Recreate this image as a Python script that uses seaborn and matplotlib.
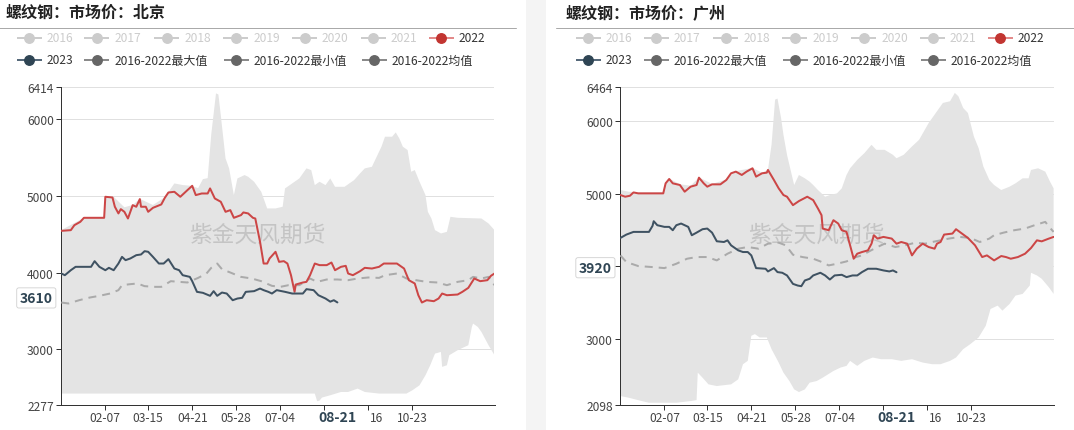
import numpy as np
import pandas as pd
import matplotlib
matplotlib.use("Agg")
import matplotlib.pyplot as plt
import matplotlib.dates as mdates
import matplotlib.transforms as mtransforms
from matplotlib.lines import Line2D
from matplotlib.patches import Rectangle
import seaborn as sns

# ---------------------------------------------------------------- data
TITLE_BJ = "螺纹钢：市场价：北京"
TITLE_GZ = "螺纹钢：市场价：广州"
WATERMARK = "紫金天风期货"
LEGEND_ROW1 = ["2016", "2017", "2018", "2019", "2020", "2021", "2022"]
LEGEND_ROW2 = ["2023", "2016-2022最大值", "2016-2022最小值", "2016-2022均值"]
TICK_LABELS = ["02-07", "03-15", "04-21", "05-28", "07-04", "08-10", "09-16", "10-23"]
CURRENT_DATE = "08-21"

BJ_YMIN, BJ_YMAX = 2277, 6414
GZ_YMIN, GZ_YMAX = 2098, 6464
BJ_LAST = 3610
GZ_LAST = 3920

# day offsets from 01-01
BJ_Y2022_DAY = [0, 8, 11, 16, 19, 36, 37, 43, 45, 48, 50, 53, 56, 60, 63, 66, 67, 71, 73, 77, 84, 87, 90, 95, 100,
                106, 110, 113, 118, 123, 125, 129, 134, 138, 142, 145, 151, 153, 157, 161, 163, 167, 170, 173, 175,
                180, 183, 187, 190, 193, 196, 197, 203, 206, 209, 213, 217, 223, 227, 230, 235, 239, 241, 245, 251,
                255, 261, 267, 271, 282, 288, 292, 297, 300, 303, 307, 313, 317, 320, 324, 333, 337, 342, 347, 352,
                358, 361, 364]
BJ_Y2022_VAL = [4543, 4552, 4617, 4661, 4713, 4713, 4987, 4978, 4857, 4770, 4826, 4791, 4704, 4878, 4857, 4957, 4857,
                4857, 4791, 4843, 4887, 4974, 5043, 5052, 4987, 5074, 5130, 5009, 5030, 5030, 5096, 4965, 4922, 4791,
                4813, 4713, 4748, 4783, 4770, 4713, 4704, 4400, 4117, 4117, 4183, 4270, 4139, 4148, 4117, 3965, 3748,
                3843, 3870, 3878, 3965, 4117, 4096, 4096, 4130, 4030, 4074, 4087, 3987, 3965, 4017, 4061, 4052, 4074,
                4117, 4117, 4052, 3900, 3857, 3704, 3609, 3639, 3626, 3661, 3726, 3704, 3713, 3748, 3800, 3922, 3887,
                3900, 3957, 3987]

BJ_Y2023_DAY = [0, 3, 8, 12, 25, 28, 32, 37, 40, 44, 48, 51, 54, 58, 63, 67, 70, 73, 77, 82, 86, 90, 95, 99, 102,
                108, 110, 114, 119, 125, 128, 131, 135, 139, 144, 148, 152, 155, 162, 167, 170, 174, 177, 181, 188,
                194, 203, 206, 212, 216, 222, 226, 229, 232]
BJ_Y2023_VAL = [3987, 3965, 4030, 4074, 4074, 4148, 4074, 4030, 4061, 4030, 4117, 4204, 4161, 4183, 4226, 4235, 4278,
                4270, 4204, 4117, 4117, 4174, 4052, 4030, 3965, 3943, 3887, 3748, 3735, 3696, 3757, 3696, 3739, 3726,
                3639, 3661, 3670, 3748, 3757, 3791, 3770, 3748, 3726, 3770, 3748, 3726, 3726, 3783, 3770, 3704, 3661,
                3620, 3639, 3610]

BJ_MEAN_DAY = [0, 6, 15, 24, 32, 41, 48, 51, 58, 64, 70, 79, 84, 92, 99, 106, 115, 122, 126, 131, 135, 142, 151, 160,
               168, 177, 184, 191, 200, 209, 215, 223, 232, 241, 249, 258, 267, 272, 282, 290, 298, 307, 316, 324,
               333, 342, 346, 353, 359, 364]
BJ_MEAN_VAL = [3609, 3596, 3639, 3674, 3696, 3726, 3770, 3835, 3848, 3857, 3822, 3813, 3813, 3887, 3878, 3870, 3930,
               3987, 4061, 4117, 4043, 4000, 3943, 3922, 3887, 3826, 3813, 3835, 3835, 3922, 3878, 3909, 3909, 3900,
               3922, 3935, 3930, 3965, 3987, 3922, 3900, 3878, 3870, 3835, 3878, 3900, 3943, 3922, 3943, 3835]

BJ_MAX_DAY = [0, 19, 36, 37, 44, 53, 60, 66, 77, 87, 95, 102, 109, 115, 119, 123, 126, 130, 132, 134, 138, 141, 145,
              148, 154, 157, 162, 168, 173, 180, 186, 188, 194, 200, 206, 210, 213, 217, 222, 226, 230, 238, 242, 246,
              251, 255, 261, 265, 269, 272, 278, 281, 284, 287, 291, 294, 297, 301, 306, 308, 311, 314, 319, 324, 327,
              333, 353, 359, 364]
BJ_MAX_VAL = [4552, 4713, 4713, 4987, 4987, 4850, 4880, 4960, 4880, 4980, 5161, 5140, 5130, 5100, 5217, 5230, 5800,
              6335, 6320, 6052, 5487, 5357, 5009, 5226, 5270, 5248, 5183, 5052, 4835, 4835, 4857, 5096, 5161, 5226,
              5357, 5335, 5139, 5183, 5139, 5226, 5117, 5117, 5161, 5204, 5291, 5357, 5378, 5509, 5639, 5770, 5770,
              5826, 5748, 5639, 5596, 5313, 5335, 5183, 5009, 4791, 4704, 4552, 4509, 4530, 4726, 4713, 4704, 4639,
              4552]

BJ_MIN_DAY = [0, 213, 215, 217, 219, 226, 235, 241, 249, 255, 267, 290, 295, 301, 306, 310, 314, 319, 320, 324, 326,
              333, 342, 345, 346, 350, 353, 359, 364]
BJ_MIN_VAL = [2422, 2422, 2322, 2330, 2370, 2400, 2443, 2443, 2487, 2443, 2422, 2422, 2465, 2530, 2661, 2791, 2943,
              2965, 2770, 2791, 2922, 2987, 3052, 3291, 3335, 3290, 3226, 3052, 2922]

GZ_Y2022_DAY = [0, 4, 8, 11, 15, 36, 38, 41, 44, 50, 54, 59, 64, 66, 70, 73, 77, 84, 89, 93, 97, 102, 106, 111, 114,
                119, 123, 124, 129, 133, 137, 140, 145, 150, 157, 162, 166, 169, 170, 175, 179, 183, 186, 190, 193,
                196, 199, 203, 208, 211, 213, 216, 221, 228, 232, 236, 241, 245, 249, 254, 259, 264, 266, 269, 272,
                279, 282, 287, 292, 298, 304, 308, 314, 320, 324, 328, 334, 340, 345, 350, 354, 360, 364]
GZ_Y2022_VAL = [4982, 4959, 4972, 5018, 5005, 5005, 5143, 5203, 5143, 5120, 5028, 5097, 5120, 5221, 5143, 5097, 5129,
                5129, 5189, 5281, 5304, 5258, 5304, 5350, 5235, 5281, 5290, 5327, 5189, 5074, 4982, 4959, 4843, 4899,
                4959, 4912, 4797, 4705, 4521, 4498, 4636, 4590, 4498, 4475, 4290, 4106, 4175, 4198, 4221, 4313, 4429,
                4383, 4406, 4383, 4313, 4336, 4313, 4152, 4244, 4313, 4267, 4244, 4313, 4336, 4438, 4452, 4512, 4452,
                4392, 4290, 4129, 4152, 4083, 4143, 4129, 4106, 4129, 4175, 4253, 4359, 4345, 4383, 4406]

GZ_Y2023_DAY = [0, 5, 11, 24, 27, 28, 31, 37, 41, 44, 47, 51, 54, 57, 60, 64, 69, 73, 77, 81, 87, 90, 93, 99, 103,
                107, 110, 114, 122, 124, 129, 132, 136, 140, 145, 149, 152, 155, 159, 162, 168, 172, 176, 180, 186,
                190, 195, 199, 203, 208, 215, 221, 226, 229, 232]
GZ_Y2023_VAL = [4392, 4438, 4475, 4475, 4558, 4622, 4567, 4544, 4544, 4498, 4567, 4590, 4567, 4544, 4429, 4465, 4512,
                4521, 4465, 4346, 4336, 4359, 4290, 4221, 4198, 4198, 4152, 3977, 3968, 3931, 3977, 3922, 3913, 3876,
                3760, 3737, 3728, 3807, 3830, 3876, 3913, 3876, 3820, 3876, 3885, 3853, 3876, 3876, 3922, 3968, 3968,
                3945, 3931, 3945, 3920]

GZ_MEAN_DAY = [0, 5, 15, 27, 37, 47, 56, 64, 73, 81, 90, 99, 107, 116, 124, 133, 139, 145, 153, 162, 168, 175, 182,
               190, 198, 203, 209, 216, 222, 231, 239, 248, 256, 262, 269, 276, 285, 294, 302, 310, 314, 322, 331,
               340, 348, 357, 361, 364]
GZ_MEAN_VAL = [4152, 4060, 4005, 3991, 3977, 4037, 4106, 4129, 4129, 4083, 4175, 4244, 4267, 4244, 4313, 4327, 4290,
               4161, 4129, 4106, 4069, 4014, 4037, 4069, 4129, 4152, 4207, 4267, 4313, 4267, 4290, 4327, 4313, 4336,
               4359, 4383, 4406, 4392, 4336, 4383, 4429, 4465, 4498, 4521, 4567, 4613, 4530, 4475]

GZ_MAX_DAY = [0, 7, 15, 36, 38, 41, 50, 59, 66, 77, 89, 97, 111, 119, 124, 127, 130, 132, 135, 137, 140, 143, 146,
              150, 155, 159, 162, 166, 172, 176, 182, 186, 190, 193, 199, 205, 211, 215, 222, 229, 232, 238, 245, 251,
              255, 259, 265, 271, 277, 281, 284, 288, 292, 297, 301, 305, 310, 314, 320, 327, 332, 338, 343, 345, 351,
              357, 361, 364]
GZ_MAX_VAL = [5051, 5028, 5018, 5018, 5150, 5210, 5130, 5110, 5225, 5135, 5195, 5310, 5355, 5290, 5330, 5673, 6295,
              6309, 6041, 5811, 5535, 5327, 5120, 5258, 5212, 5166, 5120, 5051, 4959, 4982, 5005, 5074, 5258, 5350,
              5465, 5558, 5673, 5604, 5604, 5535, 5488, 5535, 5650, 5742, 5857, 5972, 6111, 6249, 6272, 6387, 6341,
              6180, 6111, 5788, 5627, 5373, 5189, 5120, 5051, 5097, 5143, 5212, 5212, 5327, 5350, 5304, 5166, 5074]

GZ_MIN_DAY = [0, 7, 18, 24, 47, 59, 64, 65, 69, 74, 81, 93, 99, 103, 107, 110, 113, 117, 123, 127, 133, 137, 142,
              146, 150, 155, 159, 165, 170, 179, 185, 190, 193, 199, 205, 212, 219, 228, 236, 245, 254, 262, 269,
              277, 282, 288, 294, 301, 307, 311, 317, 321, 327, 332, 338, 344, 345, 350, 354, 360, 364]
GZ_MIN_VAL = [2217, 2194, 2148, 2125, 2125, 2148, 2161, 2539, 2470, 2378, 2355, 2378, 2447, 2655, 2701, 3046, 3069,
              3023, 3023, 2862, 2678, 2539, 2424, 2309, 2272, 2309, 2401, 2424, 2470, 2562, 2609, 2632, 2701, 2632,
              2701, 2747, 2724, 2724, 2701, 2724, 2678, 2655, 2655, 2701, 2747, 2862, 2931, 3023, 3184, 3415, 3461,
              3392, 3484, 3599, 3622, 3737, 3913, 3876, 3830, 3714, 3622]

# ---------------------------------------------------------------- style
sns.set_theme(style="white")
plt.rcParams["font.family"] = ["Noto Sans CJK SC", "DejaVu Sans"]
plt.rcParams["axes.unicode_minus"] = False

W, H = 1074, 431
fig = plt.figure(figsize=(W / 100, H / 100), dpi=100)
fig.patch.set_facecolor("white")

BASE = pd.Timestamp("2022-01-01")


def to_dates(days):
    return BASE + pd.to_timedelta(np.asarray(days), unit="D")


def fx(px):
    return px / W


def fy(py):
    return 1 - py / H


PX = 0.72  # points per pixel at dpi 100

C_RED = "#cc4646"
C_DARK = "#3f5262"
C_MEAN = "#aaaaaa"
C_FILL = "#e4e4e4"

# gray gap between the two panels
fig.add_artist(Rectangle((fx(526), 0), fx(20), 1, transform=fig.transFigure,
                         facecolor="#f4f4f4", edgecolor="none", zorder=0))

LEG_STYLE = {
    "2022": ("#e38a8a", "#c23531", "#333333"),
    "2023": ("#56697a", "#2f4554", "#333333"),
    "2016-2022最大值": ("#8a8a8a", "#666666", "#333333"),
    "2016-2022最小值": ("#8a8a8a", "#666666", "#333333"),
    "2016-2022均值": ("#8a8a8a", "#666666", "#333333"),
}
DISABLED = ("#cccccc", "#cccccc", "#cccccc")
ROW1_X = [16.5, 84.4, 154.3, 223.1, 292.0, 360.9, 428.7]
ROW2_X = [16.5, 84.4, 223.8, 361.6]


def draw_legend(ox):
    for labels, xs, y in ((LEGEND_ROW1, ROW1_X, 38.7), (LEGEND_ROW2, ROW2_X, 61.0)):
        for lab, x in zip(labels, xs):
            lc, mc, tc = LEG_STYLE.get(lab, DISABLED)
            x0 = x + ox
            fig.add_artist(Line2D([fx(x0), fx(x0 + 25)], [fy(y), fy(y)], transform=fig.transFigure,
                                  color=lc, lw=2 * PX, solid_capstyle="butt"))
            fig.add_artist(Line2D([fx(x0 + 12.5)], [fy(y)], transform=fig.transFigure, marker="o",
                                  ms=9.5 * PX, mfc=mc, mec=mc, lw=0))
            fig.text(fx(x0 + 30), fy(y), lab, fontsize=12 * PX, color=tc, ha="left", va="center")


def draw_panel(ox, title, ymin, ymax, last, d22, v22, d23, v23, dmean, vmean, dmax, vmax, dmin, vmin):
    # title + rule
    fig.text(fx(6 + ox), fy(13), title, fontsize=16 * PX, fontweight="bold", color="#222222",
             ha="left", va="center")
    fig.add_artist(Line2D([fx(-3 + ox), fx(516 + ox)], [fy(28.5), fy(28.5)], transform=fig.transFigure,
                          color="#aaaaaa", lw=1 * PX))
    draw_legend(ox)

    ax = fig.add_axes([fx(61.3 + ox), fy(405.7), fx(433.2), (405.7 - 88.3) / H])
    ax.set_facecolor("none")

    sns.lineplot(data=pd.DataFrame({"d": to_dates(dmean), "v": vmean}), x="d", y="v", ax=ax,
                 color=C_MEAN, lw=2 * PX, linestyle=(0, (4, 3)), zorder=3, legend=False)
    sns.lineplot(data=pd.DataFrame({"d": to_dates(d22), "v": v22}), x="d", y="v", ax=ax,
                 color=C_RED, lw=2 * PX, zorder=4, legend=False)
    sns.lineplot(data=pd.DataFrame({"d": to_dates(d23), "v": v23}), x="d", y="v", ax=ax,
                 color=C_DARK, lw=2 * PX, zorder=5, legend=False)

    xs = np.concatenate([mdates.date2num(to_dates(dmax)), mdates.date2num(to_dates(dmin))[::-1]])
    ys = np.concatenate([np.asarray(vmax, float), np.asarray(vmin, float)[::-1]])
    ax.fill(xs, ys, color=C_FILL, lw=0, zorder=1)

    ax.text(0.4527, 0.538, WATERMARK, transform=ax.transAxes, fontsize=22.7 * PX, color="#c4c4c4",
            ha="center", va="center", zorder=2)

    cur = pd.Timestamp("2022-" + CURRENT_DATE)
    tick_dates = pd.to_datetime(["2022-" + t for t in TICK_LABELS])
    # the pointer label at the current date hides the tick labels it sits on
    shown, partial = [], []
    for t, lab in zip(tick_dates, TICK_LABELS):
        gap = (t - cur).days
        if abs(gap) <= 12:
            shown.append("")
        elif 12 < gap <= 30:
            shown.append("")
            partial.append((t, lab.split("-")[1]))
        else:
            shown.append(lab)
    ax.set_xticks(tick_dates)
    ax.set_xticklabels(shown)

    yt = [ymin, 3000, 4000, 5000, 6000, ymax]
    ax.set_yticks(yt)
    ax.set_yticklabels(["" if abs(v - last) < 0.04 * (ymax - ymin) else str(v) for v in yt])
    ax.set_xlabel("")
    ax.set_ylabel("")

    ax.yaxis.grid(True, color="#e0e0e0", lw=1 * PX)
    ax.xaxis.grid(False)
    ax.set_axisbelow(True)
    for s in ("top", "right"):
        ax.spines[s].set_visible(False)
    for s in ("left", "bottom"):
        ax.spines[s].set_color("#333333")
        ax.spines[s].set_linewidth(1 * PX)
    ax.tick_params(axis="both", direction="out", length=5 * PX, width=1 * PX, color="#333333",
                   labelsize=12 * PX, labelcolor="#444444")
    ax.tick_params(axis="y", pad=2.5 * PX, left=True)
    ax.tick_params(axis="x", pad=1.5 * PX, bottom=True)

    blend = mtransforms.blended_transform_factory(ax.transData, ax.transAxes)
    for t, part in partial:
        ax.annotate(part, xy=(mdates.date2num(t), -0.039), xycoords=blend, xytext=(2 * PX, 0),
                    textcoords="offset points", ha="left", va="center", fontsize=12 * PX,
                    color="#444444", annotation_clip=False)

    # current date pointer label on the x axis
    ax.text(mdates.date2num(cur), -0.039, CURRENT_DATE, transform=blend, ha="center", va="center",
            fontsize=14 * PX, fontweight="bold", color="#2f4554", zorder=9, clip_on=False)

    # current value pointer label on the y axis
    ax.annotate(str(last), xy=(0, last), xycoords=("axes fraction", "data"),
                xytext=(-8.5 * PX, 4.5 * PX), textcoords="offset points", ha="right", va="center",
                fontsize=14 * PX, fontweight="bold", color="#2f4554", zorder=10, annotation_clip=False,
                bbox=dict(boxstyle="round,pad=0.22,rounding_size=0.15", fc="white", ec="#d0d0d0", lw=0.6))
    ax.set_xlim(BASE, BASE + pd.Timedelta(days=364))
    ax.set_ylim(ymin, ymax)
    return ax


draw_panel(0, TITLE_BJ, BJ_YMIN, BJ_YMAX, BJ_LAST, BJ_Y2022_DAY, BJ_Y2022_VAL, BJ_Y2023_DAY, BJ_Y2023_VAL,
           BJ_MEAN_DAY, BJ_MEAN_VAL, BJ_MAX_DAY, BJ_MAX_VAL, BJ_MIN_DAY, BJ_MIN_VAL)
draw_panel(559.1, TITLE_GZ, GZ_YMIN, GZ_YMAX, GZ_LAST, GZ_Y2022_DAY, GZ_Y2022_VAL, GZ_Y2023_DAY, GZ_Y2023_VAL,
           GZ_MEAN_DAY, GZ_MEAN_VAL, GZ_MAX_DAY, GZ_MAX_VAL, GZ_MIN_DAY, GZ_MIN_VAL)

fig.savefig("out.png", dpi=100, facecolor="white")
